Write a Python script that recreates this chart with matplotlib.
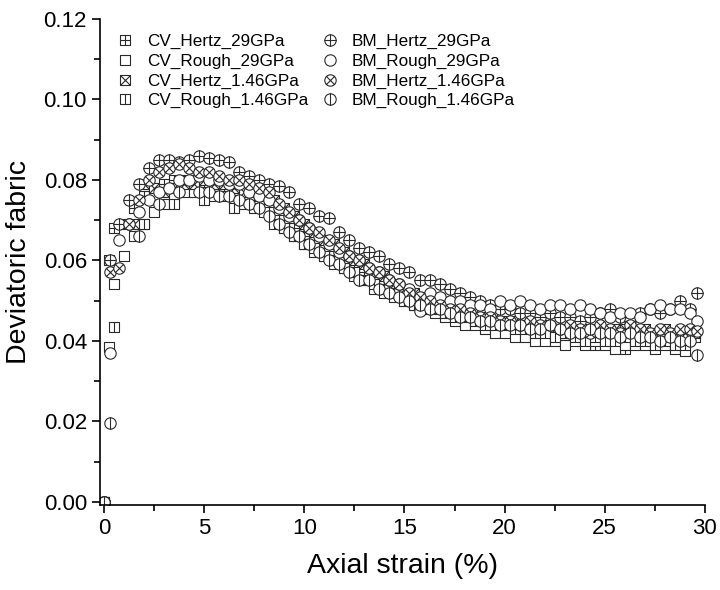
import numpy as np
import matplotlib
matplotlib.use("Agg")
import matplotlib.pyplot as plt
from matplotlib.path import Path
from matplotlib.ticker import MultipleLocator

plt.rcParams['font.family'] = ['Liberation Sans', 'DejaVu Sans']

nan = np.nan

# strain grids (%)
strain_cv = [0, 0.25, 0.5, 1.0, 1.5, 2.0, 2.5, 3.0, 3.5, 4.0, 4.5, 5.0, 5.5, 6.0, 6.5, 7.0,
             7.5, 8.0, 8.5, 9.0, 9.5, 10.0, 10.5, 11.0, 11.5, 12.0, 12.5, 13.0, 13.5, 14.0,
             14.5, 15.0, 15.5, 16.0, 16.5, 17.0, 17.5, 18.0, 18.5, 19.0, 19.5, 20.0, 20.5,
             21.0, 21.5, 22.0, 22.5, 23.0, 23.5, 24.0, 24.5, 25.0, 25.5, 26.0, 26.5, 27.0,
             27.5, 28.0, 28.5, 29.0, 29.5]
strain_bm = [0, 0.3, 0.75, 1.25, 1.75, 2.25, 2.75, 3.25, 3.75, 4.25, 4.75, 5.25, 5.75, 6.25,
             6.75, 7.25, 7.75, 8.25, 8.75, 9.25, 9.75, 10.25, 10.75, 11.25, 11.75, 12.25,
             12.75, 13.25, 13.75, 14.25, 14.75, 15.25, 15.75, 16.25, 16.75, 17.25, 17.75,
             18.25, 18.75, 19.25, 19.75, 20.25, 20.75, 21.25, 21.75, 22.25, 22.75, 23.25,
             23.75, 24.25, 24.75, 25.25, 25.75, 26.25, 26.75, 27.25, 27.75, 28.25, 28.75,
             29.25, 29.6]

cv_hertz_29 = [0.0, 0.060, 0.068, 0.069, 0.073, 0.076, 0.078, 0.079, 0.080, 0.080, 0.080,
               0.079, 0.079, 0.078, 0.078, 0.077, 0.076, 0.074, 0.072, 0.070, 0.068, 0.066,
               0.065, 0.063, 0.061, 0.060, 0.058, 0.057, 0.055, 0.054, 0.052, 0.051, 0.050,
               0.049, 0.048, 0.047, 0.047, 0.046, 0.045, 0.045, 0.044, 0.044, 0.043, 0.044,
               0.043, 0.042, 0.043, 0.042, 0.042, 0.041, 0.039, 0.042, 0.041, 0.038, 0.041,
               0.042, 0.041, 0.040, 0.041, 0.040, 0.041]
cv_rough_29 = [0.0, 0.0385, 0.054, 0.061, 0.066, 0.069, 0.072, 0.074, 0.076, 0.077, 0.077,
               0.077, 0.076, 0.076, 0.075, 0.074, 0.073, 0.072, 0.070, 0.068, 0.066, 0.064,
               0.062, 0.061, 0.059, 0.058, 0.056, 0.055, 0.053, 0.052, 0.051, 0.050, 0.049,
               0.048, 0.047, 0.046, 0.045, 0.044, 0.044, 0.043, 0.042, 0.042, 0.041, 0.041,
               0.040, 0.040, 0.040, 0.039, 0.040, 0.039, 0.040, 0.039, 0.038, 0.039, 0.039,
               0.039, 0.038, 0.039, 0.038, 0.0375, nan]
cv_hertz_146 = [0.0, nan, nan, nan, 0.069, 0.079, 0.078, 0.077, 0.078, 0.079, 0.079, 0.080,
                0.079, 0.079, 0.078, 0.077, 0.077, 0.076, 0.075, 0.073, 0.071, 0.069, 0.067,
                0.065, 0.064, 0.062, 0.060, 0.059, 0.057, 0.056, 0.054, 0.053, 0.052, 0.051,
                0.050, 0.049, 0.048, 0.047, 0.047, 0.046, 0.046, 0.045, 0.045, 0.044, 0.044,
                0.044, 0.043, 0.043, 0.044, 0.043, 0.043, 0.042, 0.043, 0.043, 0.042, 0.043,
                0.042, 0.043, 0.042, 0.042, 0.042]
cv_rough_146 = [nan, nan, 0.0435, nan, nan, 0.069, nan, nan, 0.074, nan, nan, 0.075, nan,
                nan, 0.073, nan, nan, nan, 0.069, 0.068, 0.066, 0.064, 0.063, 0.061, 0.060,
                0.058, 0.057, 0.055, 0.054, 0.053, 0.052, 0.050, 0.049, 0.049, 0.048, 0.047,
                0.046, 0.046, 0.045, 0.044, 0.044, 0.044, 0.043, 0.043, 0.042, 0.042, 0.041,
                0.042, 0.041, 0.040, 0.041, 0.040, 0.040, 0.041, 0.040, 0.040, 0.039, 0.040,
                0.039, 0.039, nan]

bm_hertz_29 = [0.0, 0.060, 0.069, 0.075, 0.079, 0.083, 0.085, 0.085, 0.0845, 0.085, 0.086,
               0.0855, 0.085, 0.0845, 0.082, 0.081, 0.080, 0.079, 0.0785, 0.077, 0.074, 0.073,
               0.071, 0.0705, 0.067, 0.065, 0.063, 0.062, 0.061, 0.059, 0.058, 0.057, 0.055,
               0.055, 0.054, 0.053, 0.052, 0.051, 0.050, 0.049, 0.048, 0.048, 0.047, 0.047,
               0.046, 0.047, 0.046, 0.046, 0.045, 0.046, 0.047, 0.048, 0.046, 0.045, 0.047,
               0.048, 0.047, 0.048, 0.050, 0.048, 0.052]
bm_rough_29 = [0.0, 0.037, 0.065, 0.069, 0.072, 0.075, 0.077, 0.078, 0.080, 0.080, 0.081,
               0.080, 0.080, 0.079, 0.079, 0.077, 0.076, 0.075, 0.073, 0.071, 0.070, 0.068,
               0.066, 0.064, 0.062, 0.061, 0.060, 0.058, 0.057, 0.055, 0.054, 0.053, 0.0475,
               0.052, 0.051, 0.050, 0.050, 0.049, 0.049, 0.048, 0.050, 0.049, 0.050, 0.049,
               0.048, 0.049, 0.049, 0.048, 0.049, 0.048, 0.047, 0.046, 0.047, 0.047, 0.046,
               0.048, 0.049, 0.048, 0.048, 0.047, 0.045]
bm_hertz_146 = [0.0, 0.057, 0.058, 0.069, 0.075, 0.080, 0.082, 0.083, 0.084, 0.083, 0.082,
                0.082, 0.081, 0.080, 0.080, 0.079, 0.078, 0.077, 0.074, 0.072, 0.070, 0.068,
                0.067, 0.065, 0.063, 0.061, 0.060, 0.058, 0.057, 0.055, 0.054, 0.052, 0.051,
                0.050, 0.049, 0.048, 0.048, 0.047, 0.046, 0.046, 0.045, 0.045, 0.044, 0.045,
                0.044, 0.044, 0.043, 0.044, 0.043, 0.042, 0.044, 0.043, 0.042, 0.044, 0.043,
                0.042, 0.043, 0.042, 0.043, 0.043, 0.0425]
bm_rough_146 = [0.0, 0.0195, nan, nan, 0.066, nan, 0.074, nan, 0.077, nan, 0.077, 0.077,
                0.076, 0.076, 0.075, 0.074, 0.073, 0.071, 0.069, 0.067, 0.066, 0.064, 0.062,
                0.060, 0.059, 0.057, 0.055, 0.055, 0.053, 0.052, 0.051, 0.050, 0.049, 0.048,
                0.048, 0.047, 0.046, 0.046, 0.045, 0.045, 0.044, 0.044, 0.044, 0.043, 0.043,
                0.044, 0.043, 0.042, 0.042, 0.043, 0.042, 0.042, 0.041, 0.042, 0.041, 0.041,
                0.040, 0.041, 0.040, 0.040, 0.0365]

labels = ["CV_Hertz_29GPa", "CV_Rough_29GPa", "CV_Hertz_1.46GPa", "CV_Rough_1.46GPa",
          "BM_Hertz_29GPa", "BM_Rough_29GPa", "BM_Hertz_1.46GPa", "BM_Rough_1.46GPa"]


def make_marker(shape, inner):
    if shape == 'square':
        outline = Path([(-1, -1), (1, -1), (1, 1), (-1, 1), (-1, -1)],
                       [Path.MOVETO, Path.LINETO, Path.LINETO, Path.LINETO, Path.CLOSEPOLY])
        d = 1.0
    else:
        outline = Path.unit_circle()
        d = 0.7071
    parts = [outline]
    if inner in ('plus', 'vline'):
        parts.append(Path([(0, -1), (0, 1)], [Path.MOVETO, Path.LINETO]))
    if inner == 'plus':
        parts.append(Path([(-1, 0), (1, 0)], [Path.MOVETO, Path.LINETO]))
    if inner == 'cross':
        parts.append(Path([(-d, -d), (d, d)], [Path.MOVETO, Path.LINETO]))
        parts.append(Path([(-d, d), (d, -d)], [Path.MOVETO, Path.LINETO]))
    return Path.make_compound_path(*parts)


fig = plt.figure(figsize=(7.2, 5.9), dpi=100)
ax = fig.add_axes([0.139, 0.144, 0.840, 0.824])

series = [
    (strain_cv, cv_hertz_29, 'square', 'plus'),
    (strain_cv, cv_rough_29, 'square', None),
    (strain_cv, cv_hertz_146, 'square', 'cross'),
    (strain_cv, cv_rough_146, 'square', 'vline'),
    (strain_bm, bm_hertz_29, 'circle', 'plus'),
    (strain_bm, bm_rough_29, 'circle', None),
    (strain_bm, bm_hertz_146, 'circle', 'cross'),
    (strain_bm, bm_rough_146, 'circle', 'vline'),
]

for (x, y, shape, inner), lab in zip(series, labels):
    ms = 7.2 if shape == 'square' else 8.2
    ax.plot(x, y, linestyle='none', marker=make_marker(shape, inner), markersize=ms,
            markerfacecolor='white', markeredgecolor='#2a2a2a', markeredgewidth=0.8,
            label=lab)

ax.set_xlim(-0.2, 30)
ax.set_ylim(-0.0008, 0.12)
ax.xaxis.set_major_locator(MultipleLocator(5))
ax.xaxis.set_minor_locator(MultipleLocator(2.5))
ax.yaxis.set_major_locator(MultipleLocator(0.02))
ax.yaxis.set_minor_locator(MultipleLocator(0.01))
ax.yaxis.set_major_formatter(matplotlib.ticker.FormatStrFormatter('%.2f'))

for s in ('top', 'right'):
    ax.spines[s].set_visible(False)
for s in ('left', 'bottom'):
    ax.spines[s].set_linewidth(1.2)
ax.tick_params(which='major', direction='out', length=6, width=1.2, labelsize=16)
ax.tick_params(which='minor', direction='out', length=4, width=1.2)

ax.set_xlabel("Axial strain (%)", fontsize=20.5, labelpad=10)
ax.set_ylabel("Deviatoric fabric", fontsize=20.5, labelpad=8)

ax.legend(ncol=2, frameon=False, loc='upper left', bbox_to_anchor=(0.01, 0.99),
          fontsize=12.3, handlelength=1.0, handletextpad=0.8, columnspacing=0.75,
          labelspacing=0.27, borderaxespad=0.2)

fig.savefig("out.png", dpi=100)
